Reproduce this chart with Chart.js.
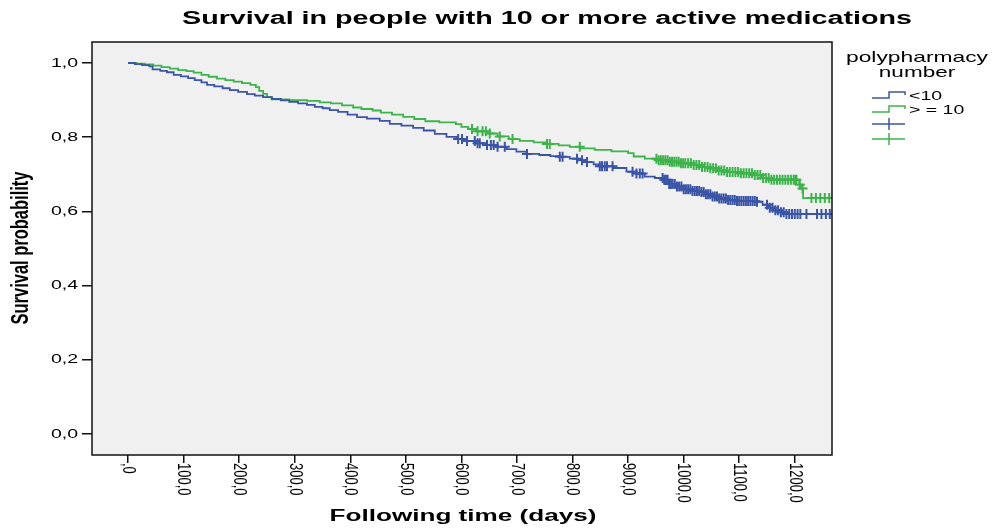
<!DOCTYPE html>
<html>
<head>
<meta charset="utf-8">
<script src="https://cdn.jsdelivr.net/npm/chart.js@4.4.1/dist/chart.umd.min.js"></script>
<style>
body{margin:0;background:#fff;}
</style>
</head>
<body>
<canvas id="myChart" width="995" height="529"></canvas>
<script>
// grupos y ejes
var groups = ['<10', '> = 10'];
var legendTitle = ['polypharmacy', 'number'];
var xTicks = [0, 100, 200, 300, 400, 500, 600, 700, 800, 900, 1000, 1100, 1200];
var xTickLabels = [',0', '100,0', '200,0', '300,0', '400,0', '500,0', '600,0', '700,0', '800,0', '900,0', '1000,0', '1100,0', '1200,0'];
var yTicks = [0, 0.2, 0.4, 0.6, 0.8, 1.0];
var yTickLabels = ['0,0', '0,2', '0,4', '0,6', '0,8', '1,0'];

// curva <10 (tiempo en dias, supervivencia)
var lowTime = [0, 12, 25, 38, 44, 58, 70, 82, 95, 108, 120, 132, 142, 155, 170, 183, 198, 214, 228, 243, 259, 275, 290, 306, 322, 336, 350, 363, 378, 395, 412, 430, 453, 471, 492, 513, 532, 552, 573, 592, 610, 628, 645, 663, 681, 699, 717, 740, 760, 777, 795, 810, 826, 838, 849, 873, 897, 915, 930, 948, 963, 972, 985, 1000, 1015, 1029, 1040, 1052, 1062, 1078, 1095, 1131, 1142, 1152, 1162, 1175, 1185, 1267];
var lowSurv = [1.0, 0.997, 0.994, 0.991, 0.983, 0.979, 0.975, 0.968, 0.964, 0.959, 0.954, 0.948, 0.941, 0.937, 0.932, 0.927, 0.922, 0.916, 0.912, 0.908, 0.903, 0.899, 0.895, 0.891, 0.887, 0.882, 0.878, 0.873, 0.868, 0.861, 0.854, 0.850, 0.844, 0.836, 0.831, 0.825, 0.818, 0.809, 0.801, 0.795, 0.790, 0.784, 0.779, 0.774, 0.768, 0.761, 0.755, 0.752, 0.749, 0.747, 0.742, 0.738, 0.733, 0.727, 0.722, 0.717, 0.707, 0.702, 0.694, 0.690, 0.685, 0.674, 0.667, 0.660, 0.655, 0.652, 0.646, 0.640, 0.635, 0.631, 0.628, 0.626, 0.618, 0.610, 0.603, 0.598, 0.593, 0.593];
var lowCensor = [594, 601, 610, 624, 629, 633, 646, 653, 658, 665, 678, 718, 777, 782, 808, 817, 826, 849, 853, 858, 862, 872, 908, 915, 921, 926,
    962, 965, 968, 971, 974, 977, 980, 984, 988, 992, 996, 1000, 1004, 1008, 1012, 1016, 1020, 1024, 1028, 1032, 1036, 1040, 1044, 1048, 1052, 1056, 1060, 1064, 1068, 1072, 1076, 1080, 1084, 1088, 1092, 1096, 1100, 1104, 1108, 1112, 1116, 1120, 1124, 1128, 1132,
    1150, 1155, 1160, 1165, 1170, 1175, 1180, 1185, 1190, 1195, 1200, 1205, 1210, 1221, 1240, 1248, 1256, 1263];

// curva >=10
var highTime = [0, 15, 30, 45, 60, 75, 90, 105, 118, 132, 145, 160, 175, 190, 205, 220, 230, 236, 243, 250, 258, 290, 322, 345, 365, 385, 405, 420, 440, 455, 475, 495, 515, 535, 560, 590, 600, 612, 625, 645, 665, 685, 705, 730, 753, 775, 795, 815, 840, 870, 900, 910, 930, 955, 975, 995, 1015, 1030, 1045, 1062, 1078, 1100, 1124, 1140, 1155, 1204, 1208, 1211, 1215, 1267];
var highSurv = [1.0, 0.998, 0.996, 0.993, 0.989, 0.985, 0.981, 0.978, 0.974, 0.968, 0.963, 0.958, 0.954, 0.950, 0.946, 0.941, 0.935, 0.925, 0.917, 0.908, 0.902, 0.900, 0.898, 0.894, 0.891, 0.886, 0.880, 0.876, 0.872, 0.866, 0.861, 0.855, 0.849, 0.843, 0.840, 0.835, 0.828, 0.822, 0.816, 0.810, 0.802, 0.795, 0.790, 0.786, 0.782, 0.778, 0.774, 0.770, 0.766, 0.762, 0.757, 0.748, 0.742, 0.738, 0.734, 0.730, 0.725, 0.720, 0.716, 0.710, 0.706, 0.703, 0.698, 0.690, 0.685, 0.685, 0.672, 0.662, 0.636, 0.636];
var highCensor = [619, 629, 638, 644, 651, 669, 692, 754, 759, 813,
    951, 955, 959, 963, 967, 971, 975, 979, 983, 987, 991, 995, 999, 1003, 1008, 1013, 1018, 1023, 1028, 1033, 1038, 1043, 1048, 1053, 1058, 1063, 1068, 1073, 1078, 1083, 1088, 1093, 1098, 1103, 1108, 1113, 1118, 1123, 1128, 1133, 1138, 1143, 1148, 1153, 1158, 1163, 1168, 1173, 1178, 1183, 1188, 1193, 1198, 1201,
    1203, 1209, 1214, 1230, 1238, 1246, 1254, 1262];

var blue = '#3a55a7';
var green = '#3cb44b';

function survAt(times, surv, t) {
    var s = surv[0];
    for (var i = 0; i < times.length; i++) {
        if (times[i] <= t) s = surv[i];
    }
    return s;
}
function curve(times, surv) {
    return times.map(function (t, i) { return {x: t, y: surv[i]}; });
}
function marks(censor, times, surv) {
    return censor.map(function (t) { return {x: t, y: survAt(times, surv, t)}; });
}

// texto estirado (la figura original esta ensanchada)
function drawText(ctx, txt, x, y, font, opt) {
    ctx.save();
    ctx.font = font;
    ctx.translate(x, y);
    if (opt.rot) ctx.rotate(opt.rot);
    var w = ctx.measureText(txt).width;
    var sx = opt.width ? opt.width / w : (opt.sx || 1);
    ctx.scale(sx, opt.sy || 1);
    ctx.textAlign = opt.align || 'center';
    ctx.textBaseline = opt.base || 'middle';
    ctx.fillStyle = '#000';
    ctx.fillText(txt, 0, 0);
    ctx.restore();
}

var decor = {
    id: 'decor',
    beforeDraw: function (chart) {
        var a = chart.chartArea, ctx = chart.ctx;
        ctx.save();
        ctx.fillStyle = '#f0f0f0';
        ctx.fillRect(a.left, a.top, a.right - a.left, a.bottom - a.top);
        ctx.restore();
    },
    afterDraw: function (chart) {
        var a = chart.chartArea, ctx = chart.ctx;
        var sx = chart.scales.x, sy = chart.scales.y;
        var f = '"Liberation Sans", Arial, sans-serif';
        ctx.save();
        ctx.strokeStyle = '#111';
        ctx.lineWidth = 1.5;
        ctx.strokeRect(a.left, a.top, a.right - a.left, a.bottom - a.top);
        ctx.restore();

        yTicks.forEach(function (v, i) {
            drawText(ctx, yTickLabels[i], 78, sy.getPixelForValue(v), '13px ' + f, {align: 'right', sx: 1.5});
        });
        xTicks.forEach(function (v, i) {
            drawText(ctx, xTickLabels[i], sx.getPixelForValue(v), 463, '13px ' + f, {rot: Math.PI / 2, align: 'left', sy: 1.45});
        });

        drawText(ctx, 'Survival in people with 10 or more active medications', 547, 19, 'bold 18px ' + f, {width: 730});
        drawText(ctx, 'Following time (days)', 463, 517, 'bold 16px ' + f, {width: 267});
        drawText(ctx, 'Survival probability', 21, 248, 'bold 20px "Liberation Sans Narrow", ' + f, {rot: -Math.PI / 2, width: 153, sy: 1.2});

        // leyenda
        drawText(ctx, legendTitle[0], 917, 62, '15px ' + f, {width: 142, base: 'alphabetic'});
        drawText(ctx, legendTitle[1], 917, 77, '15px ' + f, {sx: 1.5, base: 'alphabetic'});
        var rows = [96, 110, 124, 139];
        var cols = [blue, green, blue, green];
        ctx.save();
        ctx.lineWidth = 1.5;
        rows.forEach(function (cy, i) {
            ctx.strokeStyle = cols[i];
            ctx.beginPath();
            if (i < 2) {
                ctx.moveTo(872, cy + 2);
                ctx.lineTo(889, cy + 2);
                ctx.lineTo(889, cy - 4);
                ctx.lineTo(905, cy - 4);
                ctx.lineTo(905, cy - 1);
            } else {
                ctx.moveTo(872, cy);
                ctx.lineTo(905, cy);
                ctx.moveTo(889, cy - 6);
                ctx.lineTo(889, cy + 6);
            }
            ctx.stroke();
        });
        ctx.restore();
        drawText(ctx, groups[0], 909, rows[0], '13px ' + f, {align: 'left', sx: 1.5});
        drawText(ctx, groups[1], 909, rows[1], '13px ' + f, {align: 'left', sx: 1.5});
    }
};

var ctx = document.getElementById('myChart').getContext('2d');
var chart = new Chart(ctx, {
    type: 'line',
    data: {
        datasets: [{
            label: groups[0],
            data: curve(lowTime, lowSurv),
            borderColor: blue,
            borderWidth: 1.8,
            pointRadius: 0,
            stepped: 'before'
        }, {
            label: groups[1],
            data: curve(highTime, highSurv),
            borderColor: green,
            borderWidth: 1.8,
            pointRadius: 0,
            stepped: 'before'
        }, {
            label: '',
            data: marks(lowCensor, lowTime, lowSurv),
            showLine: false,
            borderColor: blue,
            pointStyle: 'cross',
            pointRadius: 5,
            pointBorderWidth: 2
        }, {
            label: '',
            data: marks(highCensor, highTime, highSurv),
            showLine: false,
            borderColor: green,
            pointStyle: 'cross',
            pointRadius: 5,
            pointBorderWidth: 2
        }]
    },
    options: {
        responsive: false,
        animation: false,
        devicePixelRatio: 1,
        layout: {padding: {top: 42, right: 163, left: 0, bottom: 0}},
        plugins: {
            legend: {display: false},
            tooltip: {enabled: false}
        },
        scales: {
            x: {
                type: 'linear',
                min: -65,
                max: 1267,
                afterBuildTicks: function (s) { s.ticks = xTicks.map(function (v) { return {value: v}; }); },
                afterFit: function (s) { s.height = 74; },
                ticks: {display: false},
                grid: {drawOnChartArea: false, drawTicks: true, tickLength: 8, color: '#111', lineWidth: 1.5},
                border: {display: false}
            },
            y: {
                min: -0.0566,
                max: 1.0566,
                afterBuildTicks: function (s) { s.ticks = yTicks.map(function (v) { return {value: v}; }); },
                afterFit: function (s) { s.width = 92; },
                ticks: {display: false},
                grid: {drawOnChartArea: false, drawTicks: true, tickLength: 10, color: '#111', lineWidth: 1.5},
                border: {display: false}
            }
        }
    },
    plugins: [decor]
});
</script>
</body>
</html>
